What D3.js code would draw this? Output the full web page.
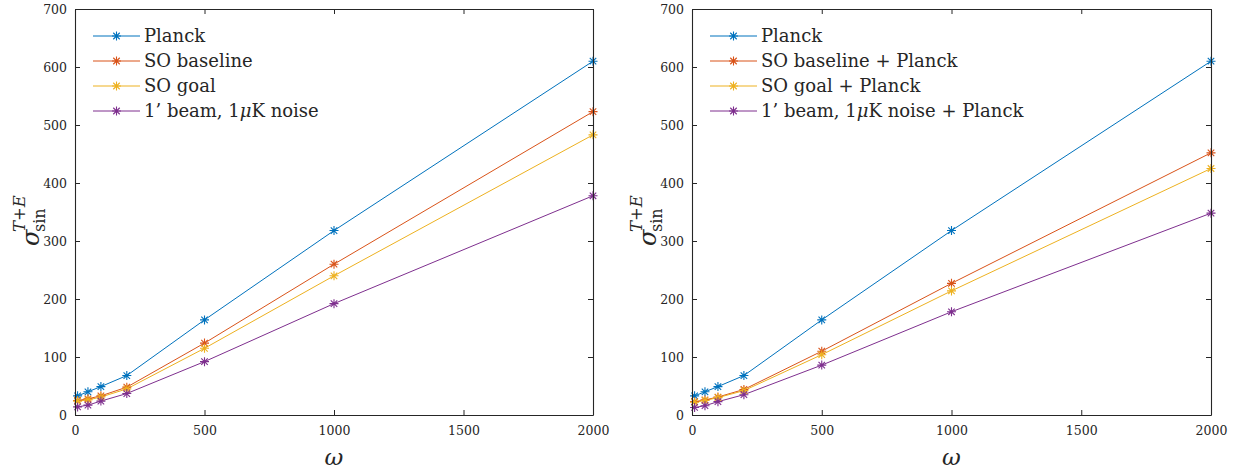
<!DOCTYPE html>
<html>
<head>
<meta charset="utf-8">
<script src="https://cdn.jsdelivr.net/npm/d3@7"></script>
<style>
  html, body { margin: 0; padding: 0; background: #fff; }
  svg { display: block; }
</style>
</head>
<body>
<svg id="chart" width="1246" height="473"></svg>
<script>
// ---------- data ----------
const omega = [10, 50, 100, 200, 500, 1000, 2000];
const xTicks = [0, 500, 1000, 1500, 2000];
const yTicks = [0, 100, 200, 300, 400, 500, 600, 700];

const planck        = [33, 40, 49, 68, 164, 318, 610];
const soBaseline    = [25, 28, 33, 48, 124, 260, 523];
const soGoal        = [24, 26, 31, 45, 115, 240, 483];
const beamNoise     = [14, 17, 24, 37, 92, 192, 378];

const soBaselinePl  = [23, 26, 31, 44, 110, 227, 452];
const soGoalPl      = [22, 25, 30, 42, 104, 214, 425];
const beamNoisePl   = [13, 16, 23, 35, 86, 178, 348];

const leftLabels  = ["Planck", "SO baseline", "SO goal", "1’ beam, 1|μ|K noise"];
const rightLabels = ["Planck", "SO baseline + Planck", "SO goal + Planck", "1’ beam, 1|μ|K noise + Planck"];
const colors = ["#0072BD", "#D95319", "#EDB120", "#7E2F8E"];

const panels = [
  { x0: 75,  x1: 593,  series: [planck, soBaseline, soGoal, beamNoise], labels: leftLabels },
  { x0: 692, x1: 1211, series: [planck, soBaselinePl, soGoalPl, beamNoisePl], labels: rightLabels }
];
const yTop = 9, yBot = 415;

const FONT = '"DejaVu Serif"';
const svg = d3.select("#chart");
const axisColor = "#262626";

function asterisk(g, cx, cy, color) {
  const r = 4.5, d = r * 0.72;
  const p = `M${cx - r},${cy}L${cx + r},${cy}M${cx},${cy - r}L${cx},${cy + r}` +
            `M${cx - d},${cy - d}L${cx + d},${cy + d}M${cx - d},${cy + d}L${cx + d},${cy - d}`;
  g.append("path").attr("d", p).attr("stroke", color).attr("stroke-width", 1.1).attr("fill", "none");
}

function txt(parent) {
  return parent.append("text").style("font-family", FONT).attr("fill", axisColor);
}

function richText(sel, str) {
  str.split("|").forEach((part, i) => {
    const t = sel.append("tspan").text(part);
    if (i % 2 === 1) t.attr("font-style", "italic");
  });
}

panels.forEach(p => {
  const x = d3.scaleLinear().domain([0, 2000]).range([p.x0, p.x1]);
  const y = d3.scaleLinear().domain([0, 700]).range([yBot, yTop]);
  const g = svg.append("g");

  const line = d3.line().x((d, i) => x(omega[i])).y(d => y(d));
  p.series.forEach((s, k) => {
    g.append("path").datum(s).attr("d", line)
      .attr("fill", "none").attr("stroke", colors[k]).attr("stroke-width", 1);
  });
  p.series.forEach((s, k) => {
    s.forEach((v, i) => asterisk(g, x(omega[i]), y(v), colors[k]));
  });

  const tl = 5, fmt = d3.format("d");
  const bottom = g.append("g").attr("transform", `translate(0,${yBot})`)
    .call(d3.axisBottom(x).tickValues(xTicks).tickFormat(fmt).tickSizeInner(-tl).tickSizeOuter(0).tickPadding(11));
  const top = g.append("g").attr("transform", `translate(0,${yTop})`)
    .call(d3.axisTop(x).tickValues(xTicks).tickSizeInner(-tl).tickSizeOuter(0).tickFormat(""));
  const left = g.append("g").attr("transform", `translate(${p.x0},0)`)
    .call(d3.axisLeft(y).tickValues(yTicks).tickFormat(fmt).tickSizeInner(-tl).tickSizeOuter(0).tickPadding(8));
  const right = g.append("g").attr("transform", `translate(${p.x1},0)`)
    .call(d3.axisRight(y).tickValues(yTicks).tickSizeInner(-tl).tickSizeOuter(0).tickFormat(""));
  [bottom, top, left, right].forEach(a => {
    a.selectAll(".domain").attr("stroke", axisColor).attr("stroke-width", 1.1);
    a.selectAll(".tick line").attr("stroke", axisColor).attr("stroke-width", 1);
    a.selectAll("text").style("font-family", FONT).attr("font-size", 12.5).attr("fill", axisColor);
  });

  txt(g).attr("x", (p.x0 + p.x1) / 2).attr("y", 465)
    .attr("text-anchor", "middle").attr("font-size", 23).attr("font-style", "italic").text("ω");

  const yl = g.append("g").attr("transform", `translate(${p.x0 - 36},246) rotate(-90)`);
  txt(yl).attr("x", 0).attr("y", 0).attr("font-size", 24).attr("font-style", "italic").text("σ");
  const sup = txt(yl).attr("x", 14).attr("y", -14).attr("font-size", 16.5);
  sup.append("tspan").attr("font-style", "italic").text("T");
  sup.append("tspan").text("+");
  sup.append("tspan").attr("font-style", "italic").text("E");
  txt(yl).attr("x", 14).attr("y", 6).attr("font-size", 16).text("sin");

  const rows = [36, 61, 86, 111];
  p.labels.forEach((lab, k) => {
    const ly = rows[k];
    g.append("line").attr("x1", p.x0 + 18).attr("x2", p.x0 + 65).attr("y1", ly).attr("y2", ly)
      .attr("stroke", colors[k]).attr("stroke-width", 1);
    asterisk(g, p.x0 + 41.5, ly, colors[k]);
    const t = txt(g).attr("x", p.x0 + 69).attr("y", ly + 6).attr("font-size", 18);
    richText(t, lab);
  });
});
</script>
</body>
</html>
